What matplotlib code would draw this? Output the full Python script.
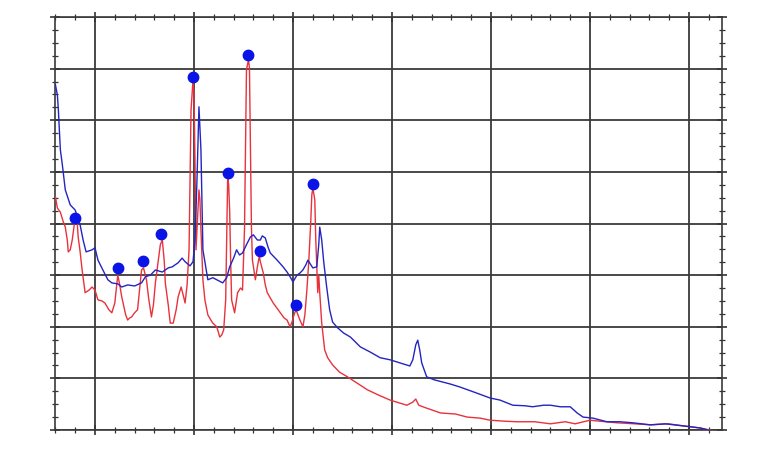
import matplotlib
matplotlib.use("Agg")
import matplotlib.pyplot as plt
from matplotlib.ticker import MultipleLocator

# blue spectrum
blue_x = [60, 62, 63, 65, 67, 70, 75, 80, 85, 88, 91, 97, 100, 103, 109, 113, 117, 123, 127, 133,
          140, 147, 151, 156, 161, 168, 174, 178, 184, 188, 191, 196, 199, 201, 203, 205, 207, 208, 209, 212,
          214, 219, 223, 229, 233, 236, 240, 243, 246, 249, 253, 257, 260, 264, 267, 269, 272, 275, 277, 281,
          284, 290, 294, 297, 300, 304, 307, 310, 313, 315, 318, 320, 324, 326, 327, 329, 331, 334, 337, 340,
          345, 351, 358, 368, 378, 388, 398, 408, 418, 421, 424, 426, 428, 430, 435, 443, 459, 469, 482, 499,
          509, 522, 534, 542, 553, 560, 570, 580, 587, 593, 603, 617, 630, 643, 661, 676, 694, 711, 719]
blue_y = [6.69, 6.49, 6.20, 5.43, 5.14, 4.65, 4.36, 4.26, 3.97, 3.68, 3.45, 3.49, 3.53, 3.29, 3.06, 2.91, 2.85, 2.83, 2.77, 2.81,
          2.79, 2.85, 2.97, 3.00, 3.10, 3.06, 3.14, 3.16, 3.24, 3.33, 3.26, 3.18, 3.26, 3.68, 4.84, 6.26, 5.43, 4.46, 3.49, 3.14,
          2.91, 2.95, 2.91, 2.85, 2.95, 3.16, 3.33, 3.49, 3.39, 3.43, 3.59, 3.74, 3.78, 3.68, 3.68, 3.76, 3.72, 3.53, 3.43, 3.35,
          3.29, 3.16, 3.06, 2.97, 2.87, 3.00, 3.04, 3.10, 3.20, 3.29, 3.20, 3.14, 3.16, 3.59, 3.93, 3.68, 3.26, 2.77, 2.33, 2.09,
          1.98, 1.88, 1.80, 1.61, 1.51, 1.40, 1.36, 1.30, 1.24, 1.36, 1.65, 1.74, 1.55, 1.30, 1.03, 0.97, 0.89, 0.83, 0.74, 0.62,
          0.58, 0.48, 0.47, 0.45, 0.48, 0.48, 0.45, 0.45, 0.33, 0.25, 0.23, 0.16, 0.16, 0.14, 0.10, 0.12, 0.08, 0.04, 0.0]

# red spectrum
red_x = [60, 62, 65, 68, 70, 72, 73, 75, 77, 79, 80, 82, 83, 85, 87, 90, 94, 97, 100, 103,
         107, 110, 114, 117, 120, 122, 123, 125, 127, 131, 133, 135, 137, 140, 143, 145, 147, 149, 152, 154,
         157, 159, 161, 164, 166, 168, 170, 171, 174, 176, 179, 182, 184, 187, 189, 191, 193, 195, 196, 197,
         199, 200, 201, 202, 203, 205, 206, 207, 209, 211, 214, 217, 219, 223, 226, 228, 230, 232, 233, 234,
         235, 236, 237, 238, 241, 244, 247, 249, 251, 252, 253, 255, 256, 257, 258, 259, 262, 264, 266, 267,
         270, 272, 274, 277, 280, 283, 287, 291, 294, 297, 299, 301, 303, 305, 307, 310, 312, 314, 316, 318,
         319, 320, 322, 323, 324, 325, 326, 327, 329, 332, 335, 340, 347, 355, 363, 375, 386, 398, 408, 415,
         421, 424, 427, 434, 449, 464, 476, 489, 499, 514, 526, 544, 560, 575, 585, 600, 610, 627, 645, 661,
         679, 694, 711, 721]
red_y = [4.52, 4.30, 4.22, 4.03, 3.93, 3.68, 3.45, 3.49, 3.68, 3.97, 4.07, 4.03, 3.74, 3.45, 3.10, 2.66, 2.71, 2.77, 2.71, 2.52,
         2.50, 2.46, 2.33, 2.27, 2.46, 2.81, 3.00, 2.81, 2.58, 2.23, 2.13, 2.17, 2.19, 2.27, 2.33, 2.71, 3.10, 3.14, 2.91, 2.58,
         2.19, 2.42, 2.85, 3.29, 3.59, 3.68, 3.26, 2.85, 2.42, 2.07, 2.07, 2.33, 2.58, 2.77, 2.62, 2.46, 2.81, 3.49, 4.84, 6.20,
         6.78, 6.49, 5.23, 3.49, 3.88, 4.65, 4.46, 3.88, 2.91, 2.52, 2.23, 2.13, 2.07, 2.00, 1.80, 1.84, 1.94, 2.52, 3.68, 4.88,
         4.75, 4.26, 3.29, 2.52, 2.27, 2.66, 2.75, 2.71, 3.88, 5.43, 6.98, 7.17, 7.02, 5.43, 3.93, 3.29, 2.91, 3.16, 3.37, 3.26,
         3.04, 2.81, 2.66, 2.56, 2.46, 2.38, 2.27, 2.17, 2.13, 2.00, 2.09, 2.23, 2.33, 2.23, 2.13, 2.00, 2.23, 2.71, 3.29, 4.07,
         4.55, 4.69, 4.46, 3.68, 3.16, 2.66, 3.00, 2.66, 2.07, 1.55, 1.40, 1.26, 1.12, 1.03, 0.93, 0.78, 0.68, 0.58, 0.52, 0.48,
         0.54, 0.60, 0.48, 0.43, 0.33, 0.31, 0.25, 0.23, 0.19, 0.17, 0.16, 0.16, 0.12, 0.16, 0.12, 0.19, 0.17, 0.14, 0.12, 0.10,
         0.12, 0.08, 0.04, 0.0]

# marked peaks
peak_x = [80, 123, 148, 167, 199, 234, 255, 267, 303, 320]
peak_y = [4.11, 3.14, 3.28, 3.80, 6.84, 4.98, 7.27, 3.47, 2.42, 4.77]

fig = plt.figure(figsize=(7.67, 4.54), dpi=100)
ax = fig.add_axes([55 / 767, 24 / 454, 667 / 767, 413 / 454])

ax.plot(red_x, red_y, color="#e8323c", lw=1.0, zorder=3)
ax.plot(blue_x, blue_y, color="#2424c0", lw=1.0, zorder=4)
ax.plot(peak_x, peak_y, "o", color="#0a14e6", markersize=7.5, zorder=5)

ax.set_xlim(59.6, 733.3)
ax.set_ylim(0, 8)
ax.xaxis.set_major_locator(MultipleLocator(100))
ax.xaxis.set_minor_locator(MultipleLocator(20))
ax.yaxis.set_major_locator(MultipleLocator(1))
ax.yaxis.set_minor_locator(MultipleLocator(0.25))
ax.grid(True, which="major", color="#3a3a3a", lw=1.3, zorder=1)
ax.tick_params(which="both", direction="inout", top=True, right=True,
               labelbottom=False, labelleft=False, color="#333333")
ax.tick_params(which="major", length=7, width=1.2)
ax.tick_params(which="minor", length=4, width=0.9)
for s in ax.spines.values():
    s.set_color("#3a3a3a")
    s.set_linewidth(1.2)

fig.savefig("out.png", dpi=100)
